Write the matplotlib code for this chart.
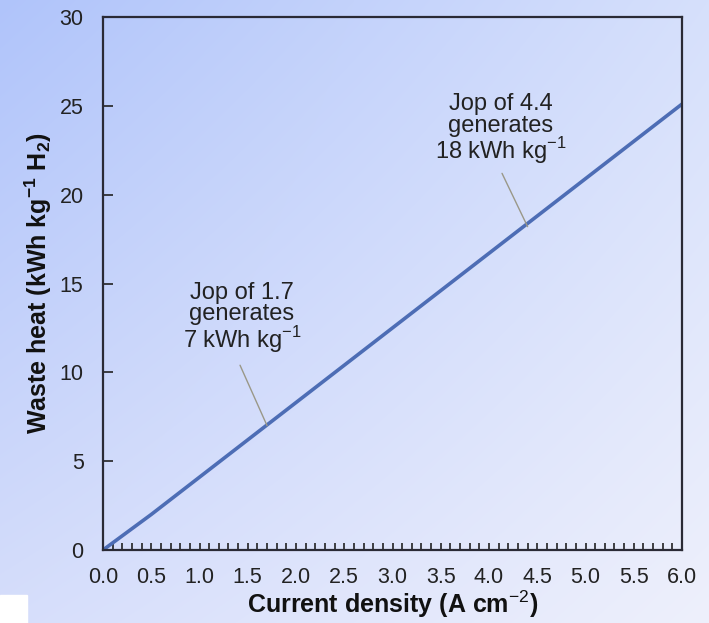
import numpy as np
import matplotlib.pyplot as plt
from matplotlib.ticker import MultipleLocator
from matplotlib.patches import Rectangle

plt.rcParams['font.family'] = ['Liberation Sans', 'DejaVu Sans']
plt.rcParams['mathtext.fontset'] = 'custom'
plt.rcParams['mathtext.rm'] = 'Liberation Sans'
plt.rcParams['mathtext.bf'] = 'Liberation Sans:bold'

# waste heat vs current density
current_density = [0.0, 0.5, 1.0, 1.5, 2.0, 2.5, 3.0, 3.5, 4.0, 4.5, 5.0, 5.5, 6.0]
waste_heat = [0.0, 2.0, 4.1, 6.2, 8.3, 10.4, 12.5, 14.6, 16.7, 18.8, 20.9, 23.0, 25.1]

notes = ['Jop of 1.7\ngenerates\n7 kWh kg$^{-1}$', 'Jop of 4.4\ngenerates\n18 kWh kg$^{-1}$']
note_x = [1.7, 4.4]
note_y = [7.0, 18.2]
note_text_xy = [(1.44, 11.0), (4.12, 21.6)]
leader_start = [(1.42, 10.4), (4.135, 21.2)]

fig = plt.figure(figsize=(7.09, 6.23), dpi=100)

# bluish gradient background
h, w = 623, 709
yy, xx = np.mgrid[0:1:h * 1j, 0:1:w * 1j]
tl = np.array([176, 196, 250]) / 255
tr = np.array([214, 224, 252]) / 255
bl = np.array([214, 222, 251]) / 255
br = np.array([238, 240, 252]) / 255
grad = ((1 - xx) * (1 - yy))[..., None] * tl + (xx * (1 - yy))[..., None] * tr \
    + ((1 - xx) * yy)[..., None] * bl + (xx * yy)[..., None] * br
bg = fig.add_axes([0, 0, 1, 1], zorder=-1)
bg.imshow(grad, aspect='auto', extent=[0, 1, 0, 1])
bg.add_patch(Rectangle((0, 0), 27 / w, 28 / h, color='white'))
bg.axis('off')

ax = fig.add_axes([103 / w, 1 - 550 / h, 579 / w, 533 / h])
ax.patch.set_alpha(0)

ax.plot(current_density, waste_heat, color='#4d6db5', lw=2.6, solid_capstyle='round')

for txt, x, y, (tx, ty), (sx, sy) in zip(notes, note_x, note_y, note_text_xy, leader_start):
    ax.annotate('', xy=(x, y), xytext=(sx, sy),
                arrowprops=dict(arrowstyle='-', color='#9a9888', lw=1.0,
                                shrinkA=0, shrinkB=0))
    ax.text(tx, ty, txt, ha='center', va='bottom', fontsize=17,
            color='#222222', linespacing=0.95)

ax.set_xlim(0, 6)
ax.set_ylim(0, 30)
ax.xaxis.set_major_locator(MultipleLocator(0.5))
ax.xaxis.set_minor_locator(MultipleLocator(0.1))
ax.yaxis.set_major_locator(MultipleLocator(5))
ax.xaxis.set_major_formatter(plt.FormatStrFormatter('%.1f'))
ax.tick_params(axis='x', which='both', direction='in', length=5, width=1.2,
               labelsize=15.5, pad=12, colors='#222222')
ax.tick_params(axis='y', which='major', direction='in', length=7, width=1.2,
               labelsize=15.5, pad=14, colors='#222222')
for s in ax.spines.values():
    s.set_linewidth(1.6)
    s.set_color('#2a2a35')

ax.set_xlabel('Current density (A cm$^{-2}$)', fontsize=18, fontweight='bold',
              color='#111111', labelpad=1)
ax.set_ylabel(r'Waste heat (kWh kg$^{\mathbf{-1}}$ H$_{\mathbf{2}}$)', fontsize=18,
              fontweight='bold', color='#111111', labelpad=4)

fig.savefig('out.png', dpi=100)
